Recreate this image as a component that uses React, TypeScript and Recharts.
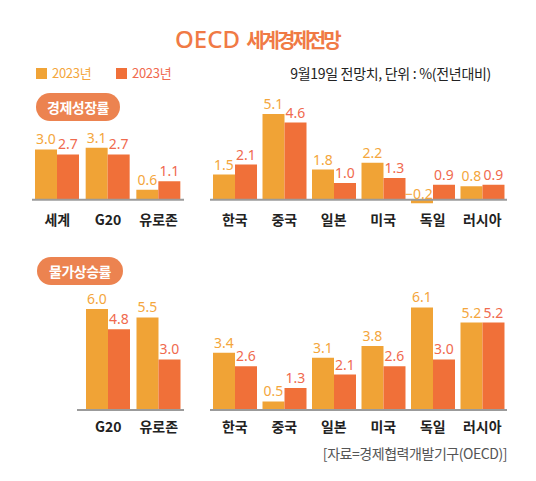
import React from 'react';
import { BarChart, Bar, XAxis, YAxis, ReferenceLine, LabelList } from 'recharts';

// 경제성장률 (world groups + countries)
const worldCats = ['세계', 'G20', '유로존'];
const growthWorldA = [3.0, 3.1, 0.6];
const growthWorldB = [2.7, 2.7, 1.1];

const countries = ['한국', '중국', '일본', '미국', '독일', '러시아'];
const growthA = [1.5, 5.1, 1.8, 2.2, -0.2, 0.8];
const growthB = [2.1, 4.6, 1.0, 1.3, 0.9, 0.9];

// 물가상승률
const inflWorldCats = ['G20', '유로존'];
const inflWorldA = [6.0, 5.5];
const inflWorldB = [4.8, 3.0];

const inflA = [3.4, 0.5, 3.1, 3.8, 6.1, 5.2];
const inflB = [2.6, 1.3, 2.1, 2.6, 3.0, 5.2];

const ORANGE = '#F0A336';
const RED = '#F07039';
const ORANGE_TXT = '#F4A63C';
const RED_TXT = '#F06A4E';
const KR = '"Noto Sans CJK KR", "Noto Sans", sans-serif';
const PX = 16.8; // px per percent point

const fmt = (v: number) => v.toFixed(1).replace('-', '−');

const makeLabel = (color: string) => (props: any) => {
  const { x, y, width, height, value } = props;
  const top = Math.min(y, y + height);
  const neg = value < 0;
  // negative labels sit just above the zero line, nudged left
  return (
    <text
      x={x + width / 2 - (neg ? 3 : 0)}
      y={neg ? top - 1 : top - 5}
      textAnchor="middle"
      fill={color}
      fontSize={14}
      fontFamily='"Noto Sans", sans-serif'
    >
      {fmt(value)}
    </text>
  );
};

interface PanelProps {
  cats: string[];
  a: number[];
  b: number[];
  left: number;
  width: number;
  baseline: number;
  domain: [number, number];
  tickMargin: number;
  padLeft?: number;
}

function Panel({ cats, a, b, left, width, baseline, domain, tickMargin, padLeft = 0 }: PanelProps) {
  const data = cats.map((name, i) => ({ name, a: a[i], b: b[i] }));
  const plotTop = baseline - domain[1] * PX;
  const plotH = (domain[1] - domain[0]) * PX;
  const height = plotH + 20 + 30;
  return (
    <div style={{ position: 'absolute', left, top: plotTop - 20 }}>
      <BarChart
        width={width}
        height={height}
        data={data}
        margin={{ top: 20, right: 0, bottom: 0, left: 0 }}
        barGap={0}
        barSize={22}
      >
        <XAxis
          dataKey="name"
          axisLine={false}
          tickLine={false}
          tickSize={0}
          tickMargin={tickMargin}
          height={30}
          interval={0}
          padding={{ left: padLeft, right: 0 }}
          tick={{ fill: '#222', fontSize: 14, fontWeight: 700, fontFamily: KR }}
        />
        <YAxis hide domain={domain} allowDataOverflow />
        <Bar dataKey="a" fill={ORANGE} isAnimationActive={false}>
          <LabelList dataKey="a" content={makeLabel(ORANGE_TXT)} />
        </Bar>
        <Bar dataKey="b" fill={RED} isAnimationActive={false}>
          <LabelList dataKey="b" content={makeLabel(RED_TXT)} />
        </Bar>
        <ReferenceLine y={0} stroke="#9b9b9b" strokeWidth={2} />
      </BarChart>
    </div>
  );
}

function Badge({ left, top, width, text }: { left: number; top: number; width: number; text: string }) {
  return (
    <div
      style={{
        position: 'absolute',
        left,
        top,
        width,
        height: 28,
        borderRadius: 14,
        background: '#EC8350',
        color: '#fff',
        fontFamily: KR,
        fontWeight: 700,
        fontSize: 14,
        lineHeight: '28px',
        textAlign: 'center',
        letterSpacing: -0.5,
      }}
    >
      {text}
    </div>
  );
}

export default function App() {
  return (
    <div
      style={{
        position: 'absolute',
        left: 0,
        top: 0,
        width: 536,
        height: 481,
        background: '#fff',
        overflow: 'hidden',
      }}
    >
      {/* title */}
      <div
        style={{
          position: 'absolute',
          left: 175,
          top: 25,
          height: 28,
          lineHeight: '28px',
          whiteSpace: 'nowrap',
          color: '#F07A45',
        }}
      >
        <span style={{ fontFamily: '"Noto Sans", sans-serif', fontSize: 24, fontWeight: 500 }}>OECD </span>
        <span style={{ fontFamily: KR, fontSize: 20, fontWeight: 700, letterSpacing: -3 }}>세계경제전망</span>
      </div>

      {/* legend */}
      <div style={{ position: 'absolute', left: 36, top: 68, width: 11, height: 11, background: ORANGE }} />
      <div
        style={{
          position: 'absolute', left: 52, top: 64, lineHeight: '18px', fontSize: 13,
          fontFamily: KR, color: ORANGE_TXT, letterSpacing: -0.3,
        }}
      >
        2023년
      </div>
      <div style={{ position: 'absolute', left: 116, top: 68, width: 11, height: 11, background: RED }} />
      <div
        style={{
          position: 'absolute', left: 132, top: 64, lineHeight: '18px', fontSize: 13,
          fontFamily: KR, color: RED_TXT, letterSpacing: -0.3,
        }}
      >
        2023년
      </div>
      <div
        style={{
          position: 'absolute', right: 45, top: 64, lineHeight: '18px', fontSize: 14,
          fontFamily: KR, color: '#222', letterSpacing: -0.3, whiteSpace: 'nowrap',
        }}
      >
        9월19일 전망치, 단위 : %(전년대비)
      </div>

      <Badge left={36} top={93} width={84} text="경제성장률" />
      <Badge left={37} top={257} width={86} text="물가상승률" />

      <Panel cats={worldCats} a={growthWorldA} b={growthWorldB} left={32} width={152}
        baseline={200} domain={[-0.5, 6]} tickMargin={7} />
      <Panel cats={countries} a={growthA} b={growthB} left={210} width={297}
        baseline={200} domain={[-0.5, 6]} tickMargin={7} />
      <Panel cats={inflWorldCats} a={inflWorldA} b={inflWorldB} left={77} width={107}
        baseline={410} domain={[0, 6.6]} tickMargin={12} padLeft={6} />
      <Panel cats={countries} a={inflA} b={inflB} left={210} width={297}
        baseline={410} domain={[0, 6.6]} tickMargin={12} />

      <div
        style={{
          position: 'absolute', right: 29, top: 444, lineHeight: '18px', fontSize: 14,
          fontFamily: KR, color: '#555', whiteSpace: 'nowrap', letterSpacing: -0.45,
        }}
      >
        [자료=경제협력개발기구(OECD)]
      </div>
    </div>
  );
}
